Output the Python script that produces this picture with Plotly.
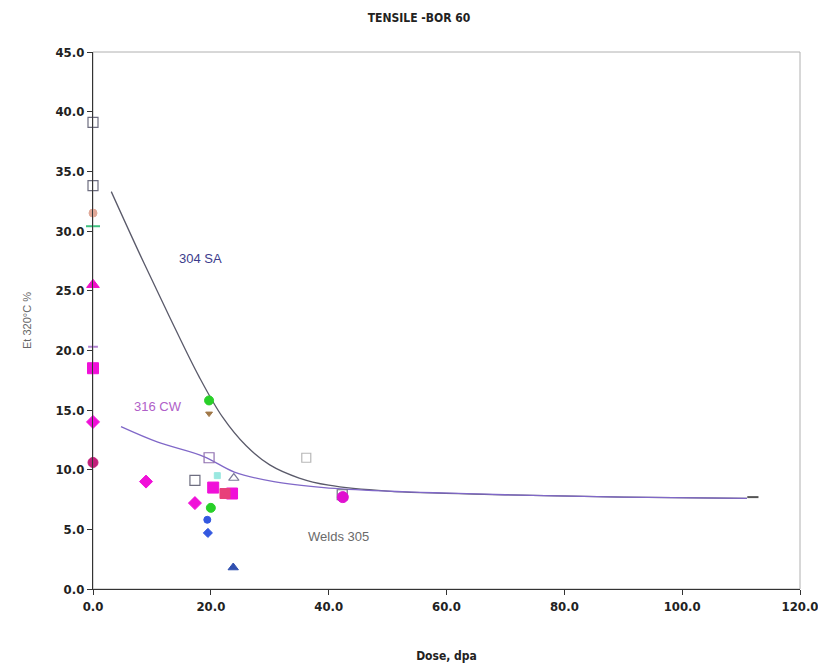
import plotly.graph_objects as go

# ---- Data ----
sa_curve_x = [3.1, 8.0, 13.0, 18.0, 22.0, 26.0, 30.0, 35.0, 40.0, 50, 70, 90, 111]
sa_curve_y = [33.3, 28.0, 22.8, 17.8, 14.4, 12.0, 10.4, 9.3, 8.7, 8.2, 7.9, 7.7, 7.6]
cw_curve_x = [4.75, 11.0, 18.8, 24.0, 30.7, 39.2, 50, 70, 90, 111]
cw_curve_y = [13.6, 12.3, 11.1, 9.8, 9.0, 8.5, 8.2, 7.9, 7.7, 7.6]

gray_sq_x = [0, 0, 17.3, 42.3]
gray_sq_y = [39.1, 33.8, 9.1, 7.9]
purple_sq_x = [19.7]
purple_sq_y = [11.0]
light_sq_x = [36.2]
light_sq_y = [11.0]
tan_x = [0]
tan_y = [31.5]
green_dash_x = [0]
green_dash_y = [30.4]
purple_dash_x = [0]
purple_dash_y = [20.3]
mag_tri_x = [0]
mag_tri_y = [25.5]
mag_sq_x = [0, 20.4, 23.6]
mag_sq_y = [18.5, 8.5, 8.0]
red_sq_x = [22.4]
red_sq_y = [8.0]
mag_dia_x = [0, 9.0, 17.3]
mag_dia_y = [14.0, 9.0, 7.2]
dark_red_x = [0]
dark_red_y = [10.6]
green_circ_x = [19.7, 20.0]
green_circ_y = [15.8, 6.8]
brown_x = [19.7]
brown_y = [14.7]
cyan_x = [21.1]
cyan_y = [9.5]
open_tri_x = [23.9]
open_tri_y = [9.3]
blue_circ_x = [19.4]
blue_circ_y = [5.8]
blue_dia_x = [19.5]
blue_dia_y = [4.7]
blue_tri_x = [23.8]
blue_tri_y = [1.8]
mag_circ_x = [42.4]
mag_circ_y = [7.7]
end_x = [112]
end_y = [7.7]

x_ticks = [0, 20, 40, 60, 80, 100, 120]
y_ticks = [0, 5, 10, 15, 20, 25, 30, 35, 40, 45]

NARROW = "Liberation Sans Narrow, Arial Narrow, DejaVu Sans Condensed, Liberation Sans, Arial"
SANS = "Liberation Sans, Arial"

fig = go.Figure()

fig.add_trace(go.Scatter(x=sa_curve_x, y=sa_curve_y, mode="lines",
                         line=dict(color="#5a5a6a", width=1.3, shape="spline", smoothing=1.0)))
fig.add_trace(go.Scatter(x=cw_curve_x, y=cw_curve_y, mode="lines",
                         line=dict(color="#8068c8", width=1.3, shape="spline")))

def pts(x, y, symbol, color, size, lw=1, lc=None):
    fig.add_trace(go.Scatter(
        x=x, y=y, mode="markers", cliponaxis=False,
        marker=dict(symbol=symbol, color=color, size=size,
                    line=dict(width=lw, color=lc if lc else color))))

pts(gray_sq_x, gray_sq_y, "square-open", "#6e6e80", 10, 1.2)
pts(purple_sq_x, purple_sq_y, "square-open", "#9070b0", 10, 1.2)
pts(light_sq_x, light_sq_y, "square-open", "#b8b8b8", 9, 1.2)
pts(tan_x, tan_y, "circle", "#e0a898", 8)
pts(green_dash_x, green_dash_y, "line-ew", "#40c080", 10, 2)
pts(purple_dash_x, purple_dash_y, "line-ew", "#b080d0", 7, 2)
pts(mag_tri_x, mag_tri_y, "triangle-up", "#f010c8", 11)
pts(mag_sq_x, mag_sq_y, "square", "#f010d8", 11)
pts(red_sq_x, red_sq_y, "square", "#e8407a", 10)
pts(mag_dia_x, mag_dia_y, "diamond", "#f010d8", 10)
pts(dark_red_x, dark_red_y, "circle", "#c0207a", 10)
pts(green_circ_x, green_circ_y, "circle", "#28d028", 9)
pts(brown_x, brown_y, "triangle-down", "#a07848", 6)
pts(cyan_x, cyan_y, "square", "#9ae8e0", 6)
pts(open_tri_x, open_tri_y, "triangle-up-open", "#7a7a98", 9, 1.2)
pts(blue_circ_x, blue_circ_y, "circle", "#3358e0", 7)
pts(blue_dia_x, blue_dia_y, "diamond", "#3358e0", 7)
pts(blue_tri_x, blue_tri_y, "triangle-up", "#3050b0", 9)
pts(mag_circ_x, mag_circ_y, "circle", "#e010d0", 11)
pts(end_x, end_y, "line-ew", "#555555", 8, 2)

fig.add_annotation(x=18.3, y=27.7, text="304 SA", showarrow=False,
                   font=dict(family=SANS, size=13, color="#3c3c8c"))
fig.add_annotation(x=11.0, y=15.3, text="316 CW", showarrow=False,
                   font=dict(family=SANS, size=13, color="#b060c8"))
fig.add_annotation(x=41.6, y=4.4, text="Welds 305", showarrow=False,
                   font=dict(family=SANS, size=13, color="#6a6a6a"))

# light frame (top/right border)
fig.add_shape(type="rect", xref="paper", yref="paper", x0=0, y0=0, x1=1, y1=1,
              line=dict(color="#b0b0b0", width=1), layer="below")

fig.update_layout(
    width=826, height=667,
    margin=dict(l=85, r=34, t=44, b=86),
    paper_bgcolor="white", plot_bgcolor="white",
    showlegend=False,
    title=dict(text="<b>TENSILE -BOR 60</b>", x=411/826, xanchor="center",
               y=1 - 10/667, yanchor="middle",
               font=dict(family=NARROW, size=12, color="#222")),
    xaxis=dict(range=[0, 120], tickvals=x_ticks,
               ticktext=["<b>%.1f</b>" % v for v in x_ticks],
               showgrid=False, zeroline=False, showline=True,
               linecolor="#333", linewidth=1.2,
               ticks="outside", ticklen=5, tickcolor="#333",
               tickfont=dict(family=NARROW, size=13, color="#222"),
               title=dict(text="<b>Dose, dpa</b>", standoff=38,
                          font=dict(family=NARROW, size=12, color="#222"))),
    yaxis=dict(range=[0, 45], tickvals=y_ticks,
               ticktext=["<b>%.1f</b>" % v for v in y_ticks],
               showgrid=False, zeroline=False, showline=True,
               linecolor="#333", linewidth=1.2,
               ticks="outside", ticklen=5, tickcolor="#333",
               tickfont=dict(family=NARROW, size=13, color="#222"),
               title=dict(text="Et 320°C %", standoff=21,
                          font=dict(family=SANS, size=11, color="#666"))),
)

fig.write_html("out.html")
